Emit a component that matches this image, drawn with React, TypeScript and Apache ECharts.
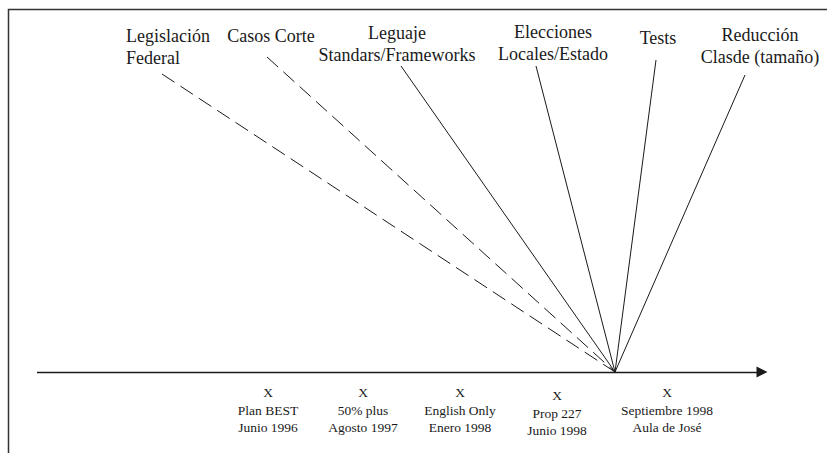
import React, { useEffect, useRef } from "react";
import * as echarts from "echarts";

// Policy influences (rays converging on the classroom moment)
const topics = [
  "Legislación\nFederal",
  "Casos Corte",
  "Leguaje\nStandars/Frameworks",
  "Elecciones\nLocales/Estado",
  "Tests",
  "Reducción\nClasde (tamaño)",
];
const topicLabelX = [126, 271, 397, 553, 658, 760];
const topicLabelY = [47, 36, 44, 43, 38, 46];
const topicLeftAligned = [true, false, false, false, false, false];
const rayStartX = [162, 267, 401, 536, 656, 745];
const rayStartY = [74, 57, 66, 66, 60, 75];
const rayDashed = [true, true, false, false, false, false];
const focusX = 615;
const focusY = 372;

// Timeline events
const events = [
  "Plan BEST\nJunio 1996",
  "50% plus\nAgosto 1997",
  "English Only\nEnero 1998",
  "Prop 227\nJunio 1998",
  "Septiembre 1998\nAula de José",
];
const eventX = [268, 363, 460, 557, 667];
const eventY = [410, 410, 410, 413, 410];
const timelineStartX = 37;
const timelineEndX = 762;
const timelineY = 372;

const W = 827;
const H = 453;
const INK = "#1a1a1a";
const SERIF = "Liberation Serif";

export default function App() {
  const ref = useRef<HTMLDivElement>(null);
  useEffect(() => {
    document.body.style.margin = "0";
    if (!ref.current) return;
    const chart = echarts.init(ref.current, undefined, { renderer: "svg" });

    const rayData = topics.map((t, i) => ({
      name: t,
      coords: [
        [rayStartX[i], rayStartY[i]],
        [focusX, focusY],
      ],
      lineStyle: {
        color: INK,
        width: 1,
        opacity: 1,
        type: rayDashed[i] ? [15, 7] : "solid",
      },
    }));

    chart.setOption({
      animation: false,
      backgroundColor: "#ffffff",
      grid: { left: 0, right: 0, top: 0, bottom: 0 },
      xAxis: { type: "value", min: 0, max: W, show: false },
      yAxis: { type: "value", min: 0, max: H, inverse: true, show: false },
      series: [
        {
          type: "lines",
          coordinateSystem: "cartesian2d",
          symbol: ["none", "none"],
          lineStyle: { opacity: 1 },
          data: rayData,
          silent: true,
        },
        {
          type: "lines",
          coordinateSystem: "cartesian2d",
          symbol: ["none", "triangle"],
          symbolSize: [9, 11],
          lineStyle: { color: INK, width: 1.3, type: "solid", opacity: 1 },
          itemStyle: { color: INK, opacity: 1 },
          data: [
            {
              coords: [
                [timelineStartX, timelineY],
                [timelineEndX, timelineY],
              ],
            },
          ],
          silent: true,
        },
      ],
    });

    const px = (x: number, y: number) =>
      chart.convertToPixel({ gridIndex: 0 }, [x, y]) as number[];

    const topTexts = topics.map((t, i) => {
      const p = px(topicLabelX[i], topicLabelY[i]);
      return {
        type: "text",
        x: p[0],
        y: p[1],
        silent: true,
        style: {
          text: t,
          fill: INK,
          fontFamily: SERIF,
          fontSize: 18,
          lineHeight: 22,
          textAlign: topicLeftAligned[i] ? "left" : "center",
          textVerticalAlign: "middle",
        },
      };
    });
    const eventTexts = events.map((e, i) => {
      const p = px(eventX[i], eventY[i]);
      return {
        type: "text",
        x: p[0],
        y: p[1],
        silent: true,
        style: {
          text: "X\n" + e,
          fill: INK,
          fontFamily: SERIF,
          fontSize: 13.5,
          lineHeight: 17.5,
          textAlign: "center",
          textVerticalAlign: "middle",
        },
      };
    });

    chart.setOption({
      graphic: [
        {
          type: "polyline",
          shape: {
            points: [
              [8.5, H + 5],
              [8.5, 9.5],
              [W + 5, 9.5],
            ],
          },
          style: { fill: "none", stroke: "#333", lineWidth: 1.5 },
          silent: true,
        },
        ...topTexts,
        ...eventTexts,
      ],
    });
    return () => chart.dispose();
  }, []);
  return <div ref={ref} style={{ width: W, height: H }} />;
}
